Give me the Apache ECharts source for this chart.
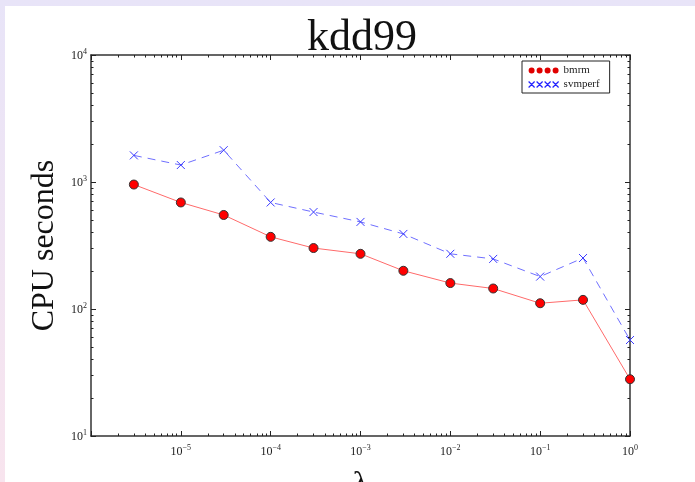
<!DOCTYPE html>
<html>
<head>
<meta charset="utf-8">
<script src="https://cdn.jsdelivr.net/npm/echarts@6/dist/echarts.min.js"></script>
<style>
  html, body { margin: 0; padding: 0; }
  body {
    width: 695px; height: 482px; overflow: hidden;
    background: linear-gradient(#e8e4f8, #f8e4ee);
    position: relative;
  }
  #chart {
    position: absolute; left: 5px; top: 6px;
    width: 690px; height: 476px; background: #fff;
  }
</style>
</head>
<body>
<div id="chart"></div>
<script>
// lambda values and CPU seconds
const lambdas = [3e-6, 1e-5, 3e-5, 1e-4, 3e-4, 1e-3, 3e-3, 1e-2, 3e-2, 1e-1, 3e-1, 1];
const bmrm    = [955, 690, 550, 370, 302, 272, 200, 160, 145, 111, 118, 28];
const svmperf = [1620, 1360, 1780, 690, 580, 485, 390, 272, 248, 180, 252, 57];

const xMajor = [1e-6, 1e-5, 1e-4, 1e-3, 1e-2, 1e-1, 1];
const yMajor = [10, 100, 1000, 10000];

// minor ticks at 2..9 x 10^k
function minors(lo, hi) {
    let out = [];
    for (let e = lo; e < hi; e++) {
        for (let m = 2; m <= 9; m++) out.push(m * Math.pow(10, e));
    }
    return out;
}
const xMinor = minors(-6, 0);
const yMinor = minors(1, 4);

const labelFont = '"Liberation Serif", "DejaVu Serif", serif';

function powLabel(v) {
    const e = Math.round(Math.log10(v));
    return '{b|10}{s|' + (e < 0 ? '\u2212' + (-e) : e) + '}';
}
const richSup = {
    b: { fontFamily: labelFont, fontSize: 12, color: '#222', verticalAlign: 'bottom' },
    s: { fontFamily: labelFont, fontSize: 8, color: '#222', verticalAlign: 'top', padding: [0, 0, 6, 0] }
};

const axisLineStyle = { color: '#333', width: 1.5 };

function logAxis(dir, pos, ticks, len, opts) {
    let ax = {
        type: 'log', logBase: 10,
        position: pos,
        min: dir === 'x' ? 1e-6 : 10,
        max: dir === 'x' ? 1 : 10000,
        axisLine: { show: true, onZero: false, lineStyle: axisLineStyle },
        axisTick: { show: true, inside: true, length: len, customValues: ticks, lineStyle: { color: '#222', width: 1 } },
        axisLabel: { show: false },
        splitLine: { show: false }
    };
    return Object.assign(ax, opts || {});
}

const chart = echarts.init(document.getElementById('chart'));
chart.setOption({
    animation: false,
    title: {
        text: 'kdd99',
        left: 352, top: 5, textAlign: 'center',
        textStyle: { fontFamily: labelFont, fontWeight: 'normal', fontSize: 44, color: '#111' }
    },
    legend: {
        left: 517, top: 55,
        orient: 'vertical',
        backgroundColor: '#fff',
        borderColor: '#222', borderWidth: 1, borderRadius: 0,
        padding: [4, 10, 3, 6],
        itemGap: 3, itemWidth: 30, itemHeight: 6,
        textStyle: { fontFamily: labelFont, fontSize: 11, color: '#222' },
        data: [
            { name: 'bmrm', icon: 'path://M0,3a3,3 0 1,0 6,0a3,3 0 1,0 -6,0M8,3a3,3 0 1,0 6,0a3,3 0 1,0 -6,0M16,3a3,3 0 1,0 6,0a3,3 0 1,0 -6,0M24,3a3,3 0 1,0 6,0a3,3 0 1,0 -6,0',
              itemStyle: { color: '#e00000', borderColor: '#e00000', borderWidth: 0 } },
            { name: 'svmperf', icon: 'path://M0,0L6,6M6,0L0,6M8,0L14,6M14,0L8,6M16,0L22,6M22,0L16,6M24,0L30,6M30,0L24,6',
              itemStyle: { color: '#2222ff', borderColor: '#2222ff', borderWidth: 1.2 } }
        ]
    },
    grid: { left: 86, top: 49, right: 65, bottom: 46, outerBoundsMode: 'none' },
    xAxis: [
        logAxis('x', 'bottom', xMajor, 5, {
            name: '\u03bb', nameLocation: 'middle', nameGap: 33,
            nameTextStyle: { fontFamily: labelFont, fontSize: 32, color: '#111' },
            axisLabel: {
                show: true, margin: 8, customValues: xMajor.slice(1),
                formatter: powLabel, rich: richSup
            }
        }),
        logAxis('x', 'bottom', xMinor, 2.5, { axisLine: { show: false } }),
        logAxis('x', 'top', xMajor, 5),
        logAxis('x', 'top', xMinor, 2.5, { axisLine: { show: false } })
    ],
    yAxis: [
        logAxis('y', 'left', yMajor, 5, {
            name: 'CPU seconds', nameLocation: 'middle', nameGap: 30, nameRotate: 90,
            nameTextStyle: { fontFamily: labelFont, fontSize: 32, color: '#111' },
            axisLabel: {
                show: true, margin: 4, customValues: yMajor,
                formatter: powLabel, rich: richSup
            }
        }),
        logAxis('y', 'left', yMinor, 2.5, { axisLine: { show: false } }),
        logAxis('y', 'right', yMajor, 5),
        logAxis('y', 'right', yMinor, 2.5, { axisLine: { show: false } })
    ],
    series: [
        {
            name: 'bmrm', type: 'line',
            data: lambdas.map((x, i) => [x, bmrm[i]]),
            symbol: 'circle', symbolSize: 9,
            itemStyle: { color: '#ff0000', borderColor: '#333', borderWidth: 1 },
            lineStyle: { color: '#ff6a6a', width: 1 },
            clip: true, z: 3
        },
        {
            name: 'svmperf', type: 'line',
            data: lambdas.map((x, i) => [x, svmperf[i]]),
            symbol: 'path://M0,0L10,10M10,0L0,10', symbolSize: 8,
            itemStyle: { color: '#3a3aff', borderColor: '#3a3aff', borderWidth: 1 },
            lineStyle: { color: '#6f6fff', width: 1, type: [8, 6] },
            clip: true, z: 2
        }
    ]
});
</script>
</body>
</html>
